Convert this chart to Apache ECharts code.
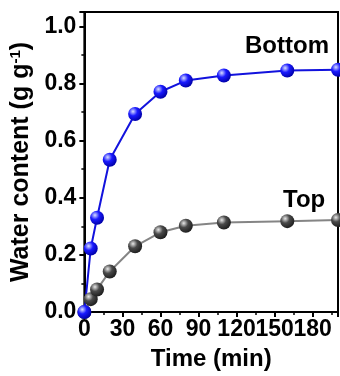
<!DOCTYPE html>
<html><head><meta charset="utf-8">
<script src="https://cdn.jsdelivr.net/npm/echarts@6/dist/echarts.min.js"></script>
<style>html,body{margin:0;padding:0;background:#fff}#c{width:340px;height:376px}</style>
</head><body><div id="c"></div>
<script>
const timeMin = [0, 5, 10, 20, 40, 60, 80, 110, 160, 200];
const bottomWater = [0, 0.222, 0.33, 0.533, 0.693, 0.771, 0.81, 0.828, 0.845, 0.848];
const topWater = [0, 0.045, 0.079, 0.142, 0.23, 0.279, 0.302, 0.313, 0.318, 0.322];
const xTicks = [0, 30, 60, 90, 120, 150, 180];
const yTicks = [0.0, 0.2, 0.4, 0.6, 0.8, 1.0];

const F = '"Liberation Sans", Arial, sans-serif';
function sphere(hi, base, dark) {
  return new echarts.graphic.RadialGradient(0.35, 0.32, 0.7, [
    {offset: 0, color: hi}, {offset: 0.45, color: base}, {offset: 1, color: dark}
  ]);
}
const chart = echarts.init(document.getElementById('c'), null, {renderer: 'canvas'});
chart.setOption({
  animation: false,
  grid: {left: 84, top: 12, right: 2, bottom: 57, show: true, borderColor: '#000', borderWidth: 2, backgroundColor: 'transparent'},
  xAxis: {
    type: 'value', min: 0, max: 200, interval: 30,
    name: 'Time (min)', nameLocation: 'middle', nameGap: 35,
    nameTextStyle: {fontFamily: F, fontWeight: 'bold', fontSize: 24, color: '#000'},
    axisLine: {show: true, lineStyle: {color: '#000', width: 2}},
    axisTick: {show: true, length: 5, lineStyle: {color: '#000', width: 2}},
    minorTick: {show: true, splitNumber: 2, length: 3, lineStyle: {color: '#000', width: 1.5}},
    splitLine: {show: false},
    axisLabel: {fontFamily: F, fontWeight: 'bold', fontSize: 23, color: '#000', margin: 6,
      hideOverlap: false, showMaxLabel: false,
      formatter: v => xTicks.indexOf(v) >= 0 ? String(v) : ''}
  },
  yAxis: {
    type: 'value', min: 0, max: 1.05, interval: 0.2,
    name: 'Water content (g g{sup|-1})', nameLocation: 'middle', nameGap: 50,
    nameTextStyle: {fontFamily: F, fontWeight: 'bold', fontSize: 25, color: '#000',
      rich: {sup: {fontFamily: F, fontWeight: 'bold', fontSize: 15, color: '#000', verticalAlign: 'top', padding: [0,0,11,0]}}},
    axisLine: {show: true, lineStyle: {color: '#000', width: 2}},
    axisTick: {show: true, length: 5, lineStyle: {color: '#000', width: 2}},
    minorTick: {show: true, splitNumber: 2, length: 3, lineStyle: {color: '#000', width: 1.5}},
    splitLine: {show: false},
    axisLabel: {fontFamily: F, fontWeight: 'bold', fontSize: 23, color: '#000', margin: 8,
      formatter: v => { const t = yTicks.find(k => Math.abs(k - v) < 1e-6); return t === undefined ? '' : t.toFixed(1); }}
  },
  series: [
    {
      type: 'line', data: timeMin.map((t, i) => [t, topWater[i]]),
      symbol: 'circle', symbolSize: 14, clip: false,
      lineStyle: {color: '#858585', width: 2},
      itemStyle: {color: sphere('#e8e8e8', '#4a4a4a', '#1e1e1e'), borderWidth: 0}
    },
    {
      type: 'line', data: timeMin.map((t, i) => [t, bottomWater[i]]),
      symbol: 'circle', symbolSize: 14, clip: false,
      lineStyle: {color: '#1212dd', width: 2},
      itemStyle: {color: sphere('#d8defe', '#1a1aff', '#0000a8'), borderWidth: 0}
    }
  ],
  graphic: [
    {type: 'text', left: 245, top: 34, style: {text: 'Bottom', font: 'bold 24px ' + F, fill: '#000'}},
    {type: 'text', left: 283, top: 188, style: {text: 'Top', font: 'bold 24px ' + F, fill: '#000'}}
  ]
});
</script></body></html>
